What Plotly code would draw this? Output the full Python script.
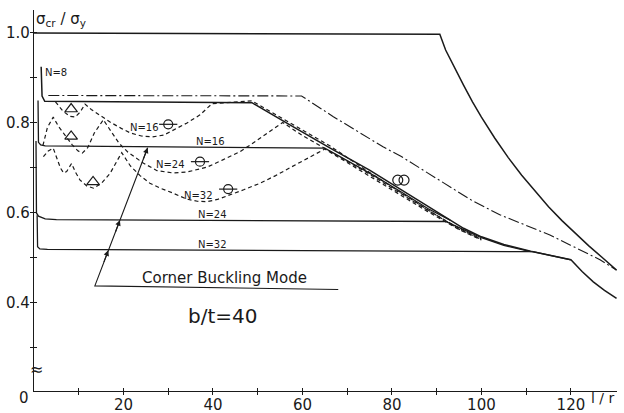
import plotly.graph_objects as go

# ---- data: sigma_cr / sigma_y against slenderness l/r (b/t = 40) ----
# yield plateau + Euler column curve
euler_x = [0, 90.7, 92, 94, 96, 98, 100, 103, 106, 109, 112, 115, 118, 121, 124, 127, 130.2]
euler_y = [1.0, 0.997, 0.962, 0.922, 0.884, 0.847, 0.813, 0.766, 0.723, 0.684, 0.648, 0.614, 0.583, 0.554,
           0.527, 0.501, 0.473]

# dash-dot reference curve
dd_x = [3.2, 59.8, 66.9, 72, 78, 82, 86.3, 93, 98, 104.1, 110, 115.3, 119.8, 126.5, 130.2]
dd_y = [0.861, 0.860, 0.814, 0.783, 0.747, 0.726, 0.699, 0.658, 0.627, 0.596, 0.572, 0.551, 0.529, 0.496, 0.473]

# solid curves, N = 8 / 16 / 24 / 32
n8_x = [1.6, 1.8, 2.4, 48.7, 57, 66, 75, 82, 88, 92, 96, 100, 105, 111, 116, 120, 122.5, 125, 127.5, 130.2]
n8_y = [0.925, 0.86, 0.848, 0.845, 0.797, 0.745, 0.695, 0.652, 0.614, 0.589, 0.566, 0.547, 0.530, 0.515, 0.505, 0.496, 0.470, 0.447, 0.428, 0.410]

n16_x = [0.9, 1.0, 1.5, 2.5, 65, 70, 76, 82, 88, 93]
n16_y = [0.850, 0.757, 0.751, 0.749, 0.744, 0.716, 0.683, 0.647, 0.610, 0.584]

n24_x = [0.45, 0.55, 1.0, 2.5, 5, 92, 96, 100, 105, 111]
n24_y = [0.760, 0.600, 0.593, 0.587, 0.585, 0.581, 0.563, 0.545, 0.528, 0.514]

n32_x = [0.7, 0.8, 1.3, 3, 111.5, 116, 120]
n32_y = [0.595, 0.525, 0.520, 0.519, 0.514, 0.505, 0.496]

# dashed curves, N = 16 / 24 / 32
d16_x = [4.8, 6.5, 8.0, 9.2, 10.3, 11.4, 12.8, 15, 17, 19.5, 21.5, 24, 26.4, 29, 31.1, 34.2, 37.1, 38.7, 39.8,
         48.7, 57, 66, 75, 82, 88, 95, 100]
d16_y = [0.847, 0.826, 0.815, 0.813, 0.824, 0.842, 0.830, 0.815, 0.802, 0.788, 0.778, 0.771, 0.769, 0.773, 0.784,
         0.800, 0.818, 0.832, 0.843, 0.849, 0.801, 0.750, 0.690, 0.645, 0.607, 0.564, 0.541]

d24_x = [2.0, 3.0, 4.3, 5.5, 7.0, 8.5, 9.8, 10.8, 12, 13.5, 15.5, 17.4, 19, 21, 24.4, 27.5, 31, 34.2, 38.7,
         42.2, 46, 48.3, 52, 55.6, 60, 66, 75, 82, 88, 95, 100]
d24_y = [0.750, 0.790, 0.813, 0.792, 0.772, 0.752, 0.738, 0.733, 0.745, 0.778, 0.807, 0.778, 0.755, 0.735,
         0.711, 0.694, 0.689, 0.691, 0.702, 0.718, 0.736, 0.751, 0.776, 0.801, 0.772, 0.737, 0.686, 0.643,
         0.606, 0.566, 0.542]

d32_x = [2.1, 3.2, 4.3, 5.2, 5.9, 6.6, 7.3, 8.4, 9.3, 10.3, 11.8, 13.3, 15, 17, 18.5, 19.6, 21.5, 23.7, 25.9,
         28.5, 31.1, 34.1, 36.5, 38.6, 41, 43.8, 47, 50.5, 54, 57.5, 61, 65, 70, 76, 82, 88, 95, 100]
d32_y = [0.725, 0.738, 0.744, 0.720, 0.700, 0.689, 0.692, 0.710, 0.690, 0.673, 0.660, 0.655, 0.665, 0.688,
         0.715, 0.734, 0.705, 0.683, 0.666, 0.654, 0.644, 0.631, 0.626, 0.625, 0.630, 0.640, 0.652, 0.666,
         0.683, 0.702, 0.720, 0.742, 0.712, 0.676, 0.640, 0.603, 0.563, 0.540]

# test points
tri_x = [8.3, 8.3, 13.2]
tri_y = [0.831, 0.770, 0.669]
theta_x = [30.0, 37.1, 43.4]
theta_y = [0.797, 0.714, 0.653]
ring_x = [81.3, 82.7]
ring_y = [0.673, 0.673]

# corner buckling mode pointer
corner_x = [68.0, 13.6, 25.4]
corner_y = [0.430, 0.438, 0.745]

# axis ticks
x_ticks = [10, 20, 30, 40, 50, 60, 70, 80, 90, 100, 110, 120]
x_ticktext = ["", "20", "", "40", "", "60", "", "80", "", "100", "", "120"]
y_ticks = [0.3, 0.4, 0.5, 0.6, 0.7, 0.8, 0.9, 1.0]
y_ticktext = ["", "0.4", "", "0.6", "", "0.8", "", "1.0"]

X_RANGE = [0, 130.3]
Y_RANGE = [0.2044, 1.051]

INK = "#1a1a1a"
FONT = "DejaVu Sans"

fig = go.Figure()


def curve(x, y, dash="solid", width=1.3):
    fig.add_trace(go.Scatter(x=x, y=y, mode="lines",
                             line=dict(color=INK, width=width, dash=dash),
                             hoverinfo="skip", showlegend=False))


curve(euler_x, euler_y, width=1.5)
curve(dd_x, dd_y, dash="11px,3px,2px,3px", width=1.1)
curve(n8_x, n8_y, width=1.5)
curve(n16_x, n16_y)
curve(n24_x, n24_y)
curve(n32_x, n32_y)
curve(d16_x, d16_y, dash="4px,3px", width=1.2)
curve(d24_x, d24_y, dash="4px,3px", width=1.2)
curve(d32_x, d32_y, dash="4px,3px", width=1.2)
curve(corner_x, corner_y, width=1.1)

fig.add_trace(go.Scatter(x=tri_x, y=tri_y, mode="markers",
                         marker=dict(symbol="triangle-up-open", size=11, color=INK,
                                     line=dict(width=1.2, color=INK)),
                         hoverinfo="skip", showlegend=False))
fig.add_trace(go.Scatter(x=theta_x, y=theta_y, mode="markers",
                         marker=dict(symbol="circle-open", size=9, color=INK,
                                     line=dict(width=1.2, color=INK)),
                         hoverinfo="skip", showlegend=False))
fig.add_trace(go.Scatter(x=theta_x, y=theta_y, mode="markers",
                         marker=dict(symbol="line-ew-open", size=13, color=INK,
                                     line=dict(width=1.2, color=INK)),
                         hoverinfo="skip", showlegend=False))
fig.add_trace(go.Scatter(x=ring_x, y=ring_y, mode="markers",
                         marker=dict(symbol="circle-open", size=10, color=INK,
                                     line=dict(width=1.2, color=INK)),
                         hoverinfo="skip", showlegend=False))

# empty trace on the overlay axes that carry the outward tick halves
fig.add_trace(go.Scatter(x=[], y=[], xaxis="x2", yaxis="y2", showlegend=False))

# arrowheads along the corner buckling pointer
for tip_x, tip_y in [(16.6, 0.517), (19.2, 0.584), (25.4, 0.745)]:
    fig.add_annotation(x=tip_x, y=tip_y, ax=tip_x - 1.1, ay=tip_y - 0.029,
                       xref="x", yref="y", axref="x", ayref="y",
                       text="", showarrow=True, arrowhead=2, arrowsize=1,
                       arrowwidth=1.1, arrowcolor=INK)

labels = [
    ("N=8", 2.0, 0.913, "left"),
    ("N=16", 24.8, 0.789, "center"),
    ("N=16", 39.4, 0.758, "center"),
    ("N=24", 30.4, 0.707, "center"),
    ("N=32", 36.8, 0.638, "center"),
    ("N=24", 39.8, 0.596, "center"),
    ("N=32", 40.0, 0.529, "center"),
]
for txt, lx, ly, anchor in labels:
    fig.add_annotation(x=lx, y=ly, text=txt, showarrow=False, xanchor=anchor, yanchor="middle",
                       font=dict(family=FONT, size=10, color=INK))

fig.add_annotation(x=42.5, y=0.4556, text="Corner Buckling Mode", showarrow=False,
                   xanchor="center", yanchor="middle",
                   font=dict(family=FONT, size=15, color=INK))
fig.add_annotation(x=42.2, y=0.371, text="b/t=40", showarrow=False,
                   xanchor="center", yanchor="middle",
                   font=dict(family=FONT, size=20, color=INK))
fig.add_annotation(x=6.0, y=1.029, text="σ<sub>cr</sub> / σ<sub>y</sub>", showarrow=False,
                   xanchor="center", yanchor="middle",
                   font=dict(family=FONT, size=15, color=INK))
fig.add_annotation(x=0.5, y=0.252, text="≈", showarrow=False,
                   xanchor="center", yanchor="middle",
                   font=dict(family=FONT, size=16, color=INK))
fig.add_annotation(x=127.2, y=-0.018, xref="x", yref="paper", text="l / r", showarrow=False,
                   xanchor="center", yanchor="middle",
                   font=dict(family=FONT, size=14, color=INK))
fig.add_annotation(x=-0.017, y=-0.018, xref="paper", yref="paper", text="0", showarrow=False,
                   xanchor="center", yanchor="middle",
                   font=dict(family=FONT, size=15, color=INK))

axis_common = dict(showgrid=False, zeroline=False, showline=True, linecolor=INK, linewidth=1.2,
                   tickcolor=INK, tickwidth=1.2, ticklen=3, automargin=False)

fig.update_layout(
    width=624, height=413,
    margin=dict(l=34, r=7, t=10, b=22),
    paper_bgcolor="white", plot_bgcolor="white",
    showlegend=False,
    xaxis=dict(range=X_RANGE, tickmode="array", tickvals=x_ticks, ticktext=x_ticktext,
               ticks="inside", tickfont=dict(family=FONT, size=15, color=INK), **axis_common),
    yaxis=dict(range=Y_RANGE, tickmode="array", tickvals=y_ticks, ticktext=y_ticktext,
               ticks="inside", tickfont=dict(family=FONT, size=15, color=INK), **axis_common),
    xaxis2=dict(range=X_RANGE, overlaying="x", anchor="y2", tickmode="array", tickvals=x_ticks,
                ticks="outside", showticklabels=False, **axis_common),
    yaxis2=dict(range=Y_RANGE, overlaying="y", anchor="x2", tickmode="array", tickvals=y_ticks,
                ticks="outside", showticklabels=False, **axis_common),
)

fig.write_html("out.html")
